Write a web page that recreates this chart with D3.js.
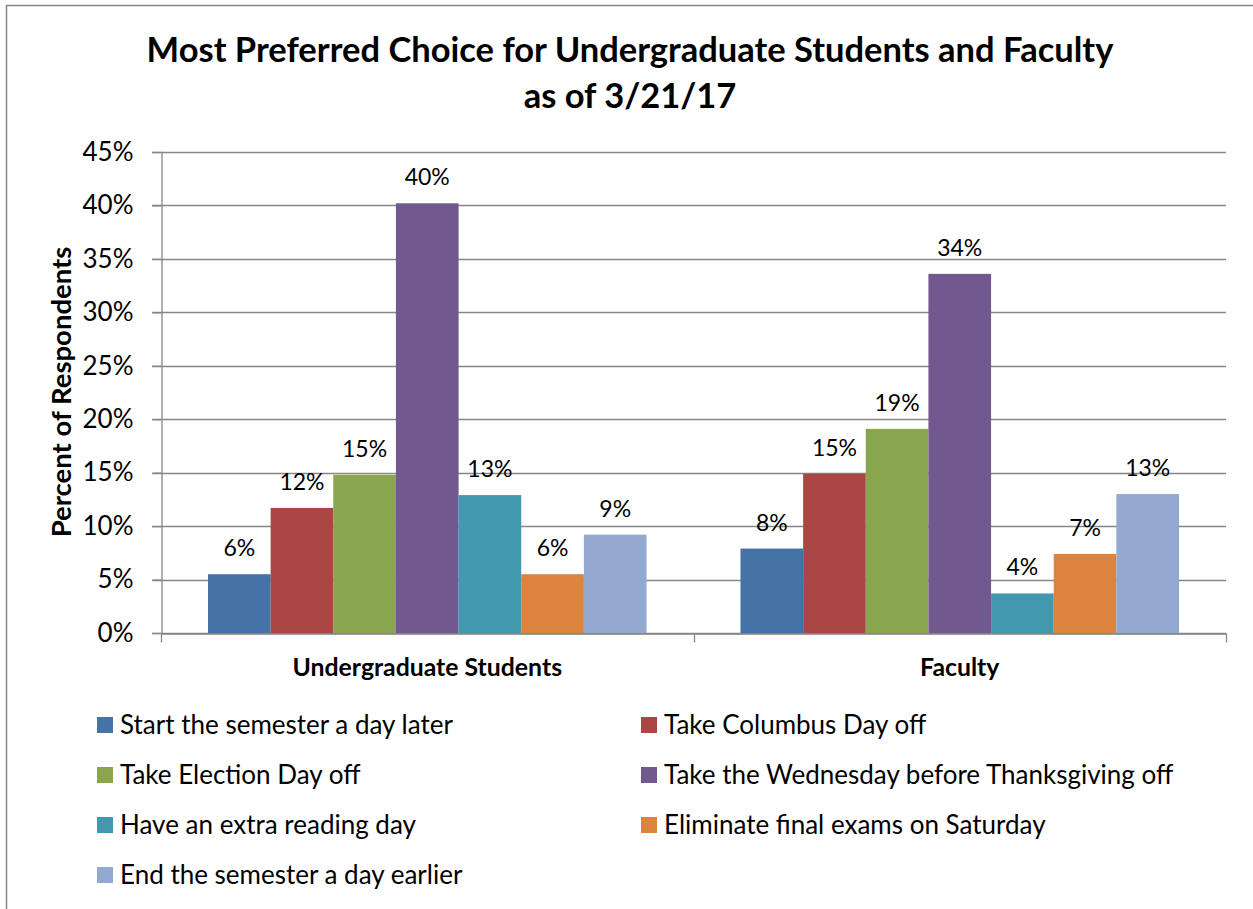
<!DOCTYPE html>
<html>
<head>
<meta charset="utf-8">
<script src="https://cdn.jsdelivr.net/npm/d3@7"></script>
<style>
  html, body { margin: 0; padding: 0; background: #fff; }
  svg { display: block; font-family: Lato, "Open Sans", sans-serif; }
</style>
</head>
<body>
<div id="chart"></div>
<script>
const groups  = ['Undergraduate Students', 'Faculty'];
const choices = [
  'Start the semester a day later',
  'Take Columbus Day off',
  'Take Election Day off',
  'Take the Wednesday before Thanksgiving off',
  'Have an extra reading day',
  'Eliminate final exams on Saturday',
  'End the semester a day earlier'
];
// percent of respondents, one array per group, in the order of `choices`
const undergradValues = [5.5, 11.7, 14.8, 40.2, 12.9, 5.5, 9.2];
const facultyValues   = [7.9, 14.9, 19.1, 33.6, 3.7, 7.4, 13.0];
const yTicks = [0, 5, 10, 15, 20, 25, 30, 35, 40, 45];
const colors = ['#4572A7', '#AA4643', '#89A54E', '#71588F', '#4198AF', '#DB843D', '#93A9CF'];

const W = 1253, H = 909;
const plot = { left: 161, right: 1226, top: 152, bottom: 633 };
const gridColor = '#868686';

const svg = d3.select('#chart').append('svg')
  .attr('width', W).attr('height', H);

// outer chart border (only left and top edges fall inside the frame)
svg.append('rect')
  .attr('x', 6.5).attr('y', 5.5)
  .attr('width', W + 20).attr('height', H + 20)
  .attr('fill', '#fff').attr('stroke', '#888').attr('stroke-width', 1.5);

// title
const title = svg.append('text')
  .attr('text-anchor', 'middle').attr('font-weight', 700)
  .attr('font-size', 34.5).attr('fill', '#000');
title.append('tspan').attr('x', 630).attr('y', 62)
  .text('Most Preferred Choice for Undergraduate Students and Faculty');
title.append('tspan').attr('x', 630).attr('y', 108)
  .text('as of 3/21/17');

const x0 = d3.scaleBand().domain(groups).range([plot.left, plot.right]);
const x1 = d3.scaleBand().domain(choices).range([0, x0.bandwidth()])
  .paddingInner(0).paddingOuter(0.75);
const y = d3.scaleLinear().domain([0, 45]).range([plot.bottom, plot.top]);

// gridlines
svg.append('g').selectAll('line').data(yTicks).join('line')
  .attr('x1', plot.left - 9).attr('x2', plot.right)
  .attr('y1', d => Math.round(y(d)) + 0.5).attr('y2', d => Math.round(y(d)) + 0.5)
  .attr('stroke', gridColor).attr('stroke-width', 1.3);

// y axis
const yAxis = svg.append('g')
  .attr('transform', `translate(${plot.left + 0.5},0)`)
  .call(d3.axisLeft(y).tickValues(yTicks).tickSize(9).tickSizeOuter(0).tickPadding(19)
    .tickFormat(d => d + '%'));
yAxis.select('.domain').attr('stroke', gridColor).attr('stroke-width', 1.3);
yAxis.selectAll('.tick line').attr('stroke', gridColor).attr('stroke-width', 1.3);
yAxis.selectAll('.tick text').attr('font-size', 26).attr('fill', '#000')
  .attr('font-family', 'Lato, sans-serif');

// y axis title
svg.append('text')
  .attr('transform', `translate(71,392) rotate(-90)`)
  .attr('text-anchor', 'middle').attr('font-weight', 700).attr('font-size', 27.5)
  .text('Percent of Respondents');

// x axis: baseline plus category separator ticks
const xAxis = svg.append('g')
  .attr('transform', `translate(0,${Math.round(plot.bottom) + 0.5})`)
  .call(d3.axisBottom(x0).tickSize(0).tickSizeOuter(0).tickPadding(0).tickFormat(''));
xAxis.select('.domain').attr('stroke', gridColor).attr('stroke-width', 1.3);
const seps = [plot.left, ...groups.map(g => x0(g) + x0.bandwidth())];
xAxis.selectAll('line.sep').data(seps).join('line').attr('class', 'sep')
  .attr('x1', d => Math.round(d) + 0.5).attr('x2', d => Math.round(d) + 0.5)
  .attr('y1', 0).attr('y2', 9)
  .attr('stroke', gridColor).attr('stroke-width', 1.3);

// category labels
svg.append('g').selectAll('text').data(groups).join('text')
  .attr('x', d => x0(d) + x0.bandwidth() / 2).attr('y', 676)
  .attr('text-anchor', 'middle').attr('font-weight', 700).attr('font-size', 24.8)
  .text(d => d);

// bars + labels
const seriesByGroup = [undergradValues, facultyValues];
groups.forEach((g, gi) => {
  const vals = seriesByGroup[gi];
  const gEl = svg.append('g').attr('transform', `translate(${x0(g)},0)`);
  gEl.selectAll('rect').data(vals).join('rect')
    .attr('x', (d, i) => x1(choices[i]))
    .attr('y', d => y(d))
    .attr('width', x1.bandwidth())
    .attr('height', d => y(0) - y(d))
    .attr('fill', (d, i) => colors[i]);
  gEl.selectAll('text').data(vals).join('text')
    .attr('x', (d, i) => x1(choices[i]) + x1.bandwidth() / 2)
    .attr('y', d => y(d) - 18)
    .attr('text-anchor', 'middle').attr('font-size', 23)
    .text(d => Math.round(d) + '%');
});

// legend, two columns
const legend = svg.append('g');
const cols = [97, 641];
const items = legend.selectAll('g').data(choices).join('g')
  .attr('transform', (d, i) => `translate(${cols[i % 2]},${725 + Math.floor(i / 2) * 50})`);
items.append('rect')
  .attr('x', 0).attr('y', -8).attr('width', 16).attr('height', 16)
  .attr('fill', (d, i) => colors[i]);
items.append('text')
  .attr('x', 23).attr('y', 0).attr('dy', '0.35em')
  .attr('font-size', 26).text(d => d);
</script>
</body>
</html>
